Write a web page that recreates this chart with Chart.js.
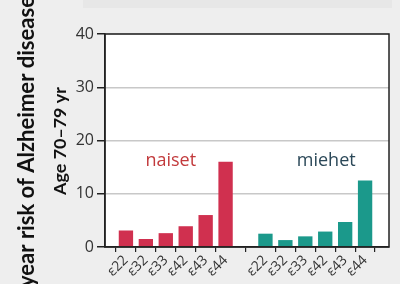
<!DOCTYPE html>
<html>
<head>
<meta charset="utf-8">
<script src="https://cdn.jsdelivr.net/npm/chart.js@4"></script>
<style>
  html, body { margin:0; padding:0; background:#eeeeee; }
  #wrap { position:relative; width:400px; height:284px; overflow:hidden; }
  #band { position:absolute; left:83px; top:0; width:309px; height:8px; background:#e7e7e7; }
  canvas { position:absolute; left:0; top:0; }
</style>
</head>
<body>
<div id="wrap">
  <div id="band"></div>
  <canvas id="c" width="400" height="284"></canvas>
</div>
<script>
// genotype labels, one group for women and one for men
const genotypes = ['ε22','ε32','ε33','ε42','ε43','ε44'];
const womenRisk = [3.1, 1.5, 2.6, 3.9, 6.0, 16.0];
const menRisk   = [2.5, 1.3, 2.0, 2.9, 4.7, 12.5];
const yTicks = [0, 10, 20, 30, 40];
const groupNames = ['naiset', 'miehet'];

const womenColor = '#d0304f', menColor = '#1b998b';

// slot positions: 0..5 women, gap, 7..12 men
const xPos = [], xLab = [], yVals = [], cols = [];
genotypes.forEach((g,i)=>{ xPos.push(i); xLab.push(g); yVals.push(womenRisk[i]); cols.push(womenColor); });
genotypes.forEach((g,i)=>{ xPos.push(i+7); xLab.push(g); yVals.push(menRisk[i]); cols.push(menColor); });

// rotated text squeezed to a given length
function vText(ctx, txt, x, y, len, maxSize){
  ctx.save();
  let size = maxSize;
  ctx.font = 'bold ' + size + 'px Lato';
  const w = ctx.measureText(txt).width;
  if (w > len) { size = size * len / w; ctx.font = 'bold ' + size + 'px Lato'; }
  ctx.translate(x, y); ctx.rotate(-Math.PI/2);
  ctx.textAlign = 'center'; ctx.textBaseline = 'alphabetic';
  ctx.fillStyle = '#111';
  ctx.fillText(txt, 0, 0);
  ctx.restore();
}

const frame = {
  id:'frame',
  beforeDraw(chart){
    const {ctx, chartArea:a} = chart;
    ctx.save(); ctx.fillStyle = '#ffffff';
    ctx.fillRect(a.left, a.top, a.right-a.left, a.bottom-a.top);
    ctx.restore();
  },
  afterDraw(chart){
    const {ctx, chartArea:a, scales} = chart;
    ctx.save();
    ctx.strokeStyle = '#222'; ctx.lineWidth = 1.5;
    ctx.strokeRect(a.left, a.top, a.right-a.left, a.bottom-a.top);
    // group names
    ctx.font = '18px "Open Sans"'; ctx.textAlign = 'center'; ctx.textBaseline = 'middle';
    ctx.fillStyle = '#c23a3c';
    ctx.fillText(groupNames[0], scales.x.getPixelForValue(2.25), scales.y.getPixelForValue(16.2));
    ctx.fillStyle = '#2b4858';
    ctx.fillText(groupNames[1], scales.x.getPixelForValue(10.05), scales.y.getPixelForValue(16.2));
    ctx.restore();
    // y axis titles
    vText(ctx, 'year risk of Alzheimer disease', 34, 141.5, 291, 24);
    vText(ctx, 'Age 70–79 yr', 66, 141, 108, 18);
  }
};

new Chart(document.getElementById('c'), {
  type:'bar',
  data:{ datasets:[{ data: xPos.map((x,i)=>({x, y:yVals[i]})), backgroundColor: cols, borderWidth:0 }] },
  options:{
    responsive:false, animation:false,
    layout:{ padding:{ top:34, right:11, left:0, bottom:0 } },
    plugins:{ legend:{display:false}, tooltip:{enabled:false} },
    scales:{
      x:{
        type:'linear', min:-1.05, max:13.2, offset:false,
        afterBuildTicks(s){ s.ticks = xPos.map(v=>({value:v})); },
        afterFit(s){ s.height = 37; s.paddingLeft = 0; s.paddingRight = 0; },
        grid:{ display:true, drawOnChartArea:false, tickLength:5, tickColor:'#222', lineWidth:1.2 },
        border:{ display:true, color:'#222', width:1.5 },
        ticks:{ autoSkip:false, minRotation:45, maxRotation:45, padding:0, color:'#333',
                font:{ family:'Open Sans', size:14 },
                callback:(v,i)=>xLab[i] }
      },
      y:{
        min:0, max:40,
        afterBuildTicks(s){ s.ticks = yTicks.map(v=>({value:v})); },
        afterFit(s){ s.width = 105; },
        grid:{ color:'#c8c8c8', lineWidth:1.5, tickColor:'#222', tickLength:8 },
        border:{ display:true, color:'#222', width:1.5 },
        ticks:{ color:'#333', padding:3, font:{ family:'Open Sans', size:16 } }
      }
    }
  },
  plugins:[frame]
});
</script>
</body>
</html>
